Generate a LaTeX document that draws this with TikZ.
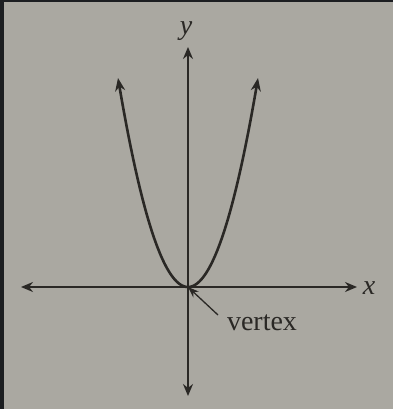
\documentclass[tikz,border=0pt]{standalone}
\usepackage{fontspec}
\setmainfont{Liberation Serif}
\usetikzlibrary{arrows.meta}
\definecolor{paper}{RGB}{170,168,161}
\definecolor{ink}{RGB}{42,40,37}
\definecolor{edge}{RGB}{28,30,33}
\tikzset{
  axis/.style={draw=ink, line width=1.8pt, {Stealth[length=12pt,width=10pt]}-{Stealth[length=12pt,width=10pt]}},
  curve/.style={draw=ink, line width=2.6pt, {Stealth[length=13pt,width=10pt]}-{Stealth[length=13pt,width=10pt]}},
  pointer/.style={draw=ink, line width=1.3pt, -{Stealth[length=11pt,width=8pt]}},
  lbl/.style={text=ink, font=\fontsize{28}{30}\selectfont, inner sep=0pt}
}
\begin{document}
\begin{tikzpicture}[x=1pt,y=-1pt]
\useasboundingbox (0,0) rectangle (393,409);
\fill[paper] (0,0) rectangle (393,409);
\fill[edge] (0,0) rectangle (4,409);
\fill[edge] (0,0) rectangle (393,2);
\coordinate (O) at (188,287);
\coordinate (L) at (21,287);
\coordinate (R) at (357,287);
\coordinate (T) at (188,47);
\coordinate (B) at (188,396);
\draw[axis] (L) -- (R);
\draw[axis] (B) -- (T);
\node[lbl, font=\fontsize{28}{30}\selectfont\itshape] (xl) at (369,288) {x};
\node[lbl, font=\fontsize{28}{30}\selectfont\itshape] (yl) at (186,31) {y};
\draw[curve] plot[domain=-70:70, samples=121] ({188+\x},{287-209*(\x/70)*(\x/70)});
\node[lbl] (vl) at (262,323) {vertex};
\coordinate (vs) at (218,315);
\draw[pointer] (vs) -- (O);
\end{tikzpicture}
\end{document}
